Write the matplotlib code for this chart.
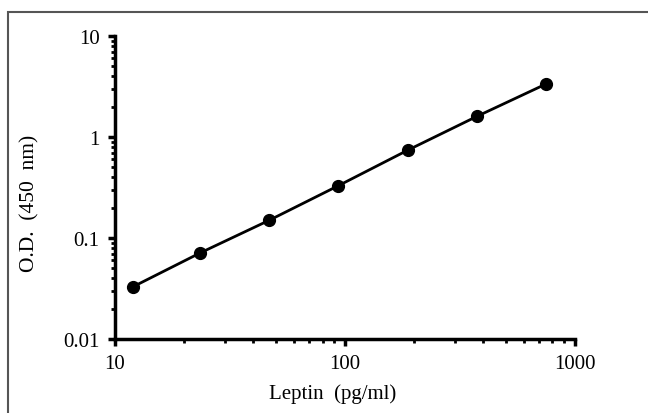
import numpy as np
import matplotlib
matplotlib.use("Agg")
import matplotlib.pyplot as plt
from matplotlib.patches import Rectangle
from matplotlib.ticker import LogLocator, FixedLocator, FixedFormatter, NullFormatter

# concentraciones del estándar y densidad óptica
leptin = [12, 23.4, 46.9, 93.75, 187.5, 375, 750]
od = [0.033, 0.071, 0.15, 0.33, 0.74, 1.6, 3.35]

xticks = [10, 100, 1000]
xlabels = ["10", "100", "1000"]
yticks = [0.01, 0.1, 1, 10]
ylabels = ["0.01", "0.1", "1", "10"]

plt.rcParams["font.family"] = ["Liberation Serif", "DejaVu Serif"]

fig = plt.figure(figsize=(6.48, 4.14), dpi=100)
ax = fig.add_axes([0.1775, 0.1787, 0.7095, 0.7319])

# marco exterior gris
fig.patches.append(Rectangle((8 / 648, -0.01), 1.0, 1 - 13 / 414 + 0.01,
                             transform=fig.transFigure, fill=False,
                             edgecolor="#555555", linewidth=1.5))

ax.plot(leptin, od, color="black", linewidth=2, marker="o",
        markersize=8.5, markerfacecolor="black")

ax.set_xscale("log")
ax.set_yscale("log")
ax.set_xlim(10, 1000)
ax.set_ylim(0.01, 10)

ax.xaxis.set_major_locator(FixedLocator(xticks))
ax.xaxis.set_major_formatter(FixedFormatter(xlabels))
ax.yaxis.set_major_locator(FixedLocator(yticks))
ax.yaxis.set_major_formatter(FixedFormatter(ylabels))
ax.xaxis.set_minor_locator(LogLocator(base=10, subs=np.arange(2, 10)))
ax.yaxis.set_minor_locator(LogLocator(base=10, subs=np.arange(2, 10)))
ax.xaxis.set_minor_formatter(NullFormatter())
ax.yaxis.set_minor_formatter(NullFormatter())

for s in ["top", "right"]:
    ax.spines[s].set_visible(False)
for s in ["left", "bottom"]:
    ax.spines[s].set_linewidth(2.5)

ax.tick_params(which="major", direction="out", length=5, width=2.5,
               labelsize=15, pad=6)
ax.tick_params(which="minor", direction="out", length=3, width=2)

ax.set_xlabel("Leptin  (pg/ml)", fontsize=15)
ax.set_ylabel("O.D.  (450  nm)", fontsize=15.5)
ax.xaxis.set_label_coords(0.474, -0.146)
ax.yaxis.set_label_coords(-0.165, 0.45)

fig.savefig("out.png", dpi=100)
